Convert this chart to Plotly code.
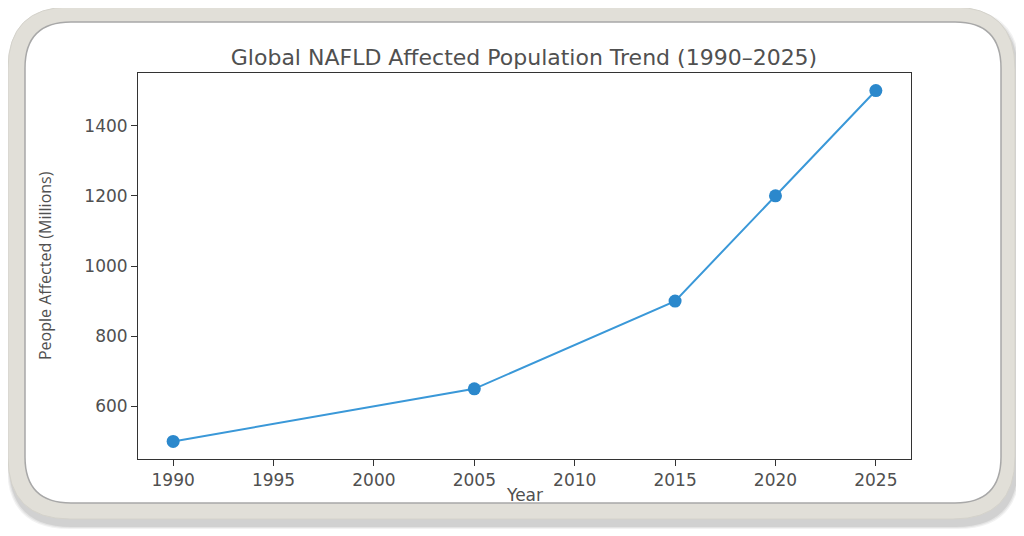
import plotly.graph_objects as go

years = [1990, 2005, 2015, 2020, 2025]
affected = [500, 650, 900, 1200, 1500]
x_ticks = [1990, 1995, 2000, 2005, 2010, 2015, 2020, 2025]
y_ticks = [600, 800, 1000, 1200, 1400]

W, H = 1024, 536
OFF = 8  # page body margin compensation


def X(px):
    return (px - OFF) / W


def Y(py):
    return 1 - (py - OFF) / H


def rr(x0, y0, x1, y1, r):
    return (f"M {X(x0+r)},{Y(y0)} L {X(x1-r)},{Y(y0)} Q {X(x1)},{Y(y0)} {X(x1)},{Y(y0+r)} "
            f"L {X(x1)},{Y(y1-r)} Q {X(x1)},{Y(y1)} {X(x1-r)},{Y(y1)} "
            f"L {X(x0+r)},{Y(y1)} Q {X(x0)},{Y(y1)} {X(x0)},{Y(y1-r)} "
            f"L {X(x0)},{Y(y0+r)} Q {X(x0)},{Y(y0)} {X(x0+r)},{Y(y0)} Z")


shapes = []
# drop shadow
for i, a in enumerate([0.05, 0.06, 0.08]):
    d = 3 - i
    shapes.append(dict(type="path", xref="paper", yref="paper", layer="below",
                       path=rr(10 - d, 12 - d, 1017 + d, 526 + d, 62),
                       fillcolor=f"rgba(0,0,0,{a})", line=dict(width=0)))
# outer frame
shapes.append(dict(type="path", xref="paper", yref="paper", layer="below",
                   path=rr(8, 7, 1015, 519, 62), fillcolor="#e1dfd8",
                   line=dict(color="#d4d2cb", width=1)))
# inner white panel
shapes.append(dict(type="path", xref="paper", yref="paper", layer="below",
                   path=rr(25, 22, 1001, 503, 46), fillcolor="#ffffff",
                   line=dict(color="#a8a8a8", width=1.5)))

fig = go.Figure()
fig.add_trace(go.Scatter(
    x=years, y=affected, mode="lines+markers",
    line=dict(color="#3a98d8", width=2),
    marker=dict(color="#2b88cc", size=13),
    hoverinfo="skip", showlegend=False,
))

axis_font = dict(family="DejaVu Sans", size=17, color="#505050")
fig.update_layout(
    width=W, height=H,
    margin=dict(l=0, r=0, t=0, b=0),
    paper_bgcolor="#ffffff",
    plot_bgcolor="rgba(0,0,0,0)",
    shapes=shapes,
    showlegend=False,
    title=dict(text="Global NAFLD Affected Population Trend (1990\u20132025)",
               x=X(524), xanchor="center", y=Y(57), yanchor="middle",
               font=dict(family="DejaVu Sans", size=22, color="#505050")),
    xaxis=dict(domain=[X(138), X(911)], range=[1988.25, 2026.75],
               tickvals=x_ticks, ticktext=[str(v) for v in x_ticks],
               showgrid=False, zeroline=False, showline=True, mirror=True,
               linecolor="#333333", linewidth=1, ticks="outside", ticklen=6,
               tickcolor="#333333", tickfont=axis_font),
    yaxis=dict(domain=[Y(459), Y(73)], range=[450, 1550],
               tickvals=y_ticks, ticktext=[str(v) for v in y_ticks],
               showgrid=False, zeroline=False, showline=True, mirror=True,
               linecolor="#333333", linewidth=1, ticks="outside", ticklen=6,
               tickcolor="#333333", tickfont=axis_font),
    annotations=[
        dict(text="Year", xref="paper", yref="paper", x=X(524), y=Y(495),
             xanchor="center", yanchor="middle", showarrow=False,
             font=dict(family="DejaVu Sans", size=17, color="#505050")),
        dict(text="People Affected (Millions)", xref="paper", yref="paper",
             x=X(45), y=Y(266), xanchor="center", yanchor="middle",
             textangle=-90, showarrow=False,
             font=dict(family="Open Sans", size=16, color="#505050")),
    ],
)

fig.write_html("out.html")
